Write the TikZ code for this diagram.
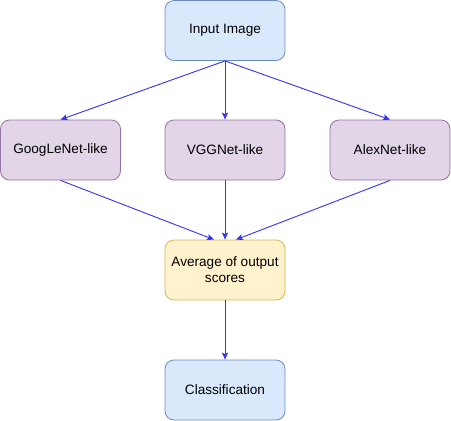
\documentclass[tikz,border=0pt]{standalone}
\usepackage{fontspec}
\setmainfont{Liberation Sans}
\usetikzlibrary{arrows.meta,positioning}
\definecolor{bluefill}{HTML}{DAE8FC}
\definecolor{blueline}{HTML}{6C8EBF}
\definecolor{netfill}{HTML}{E1D5E7}
\definecolor{netline}{HTML}{9673A6}
\definecolor{avgfill}{HTML}{FFF2CC}
\definecolor{avgline}{HTML}{D6B656}
\definecolor{flow}{RGB}{51,51,240}

\begin{document}
\begin{tikzpicture}[x=1pt,y=-1pt,
    box/.style={rounded corners=9pt,draw=blueline,fill=bluefill,line width=0.8pt,
                minimum width=120pt,minimum height=60pt,inner sep=2pt,
                font=\fontsize{13.6}{16}\selectfont,align=center},
    net/.style={box,draw=netline,fill=netfill},
    arr/.style={-{Stealth[length=7pt,width=6pt,inset=1.5pt]},flow,line width=0.9pt}]
    \useasboundingbox (0,0) rectangle (451,421);
    \node[box] (input) at (225,30.5) {Input Image};
    \node[net] (goog)  at (60.5,150) {GoogLeNet-like};
    \node[net] (vgg)   at (225,150) {VGGNet-like};
    \node[net] (alex)  at (390,150) {AlexNet-like};
    \node[box,draw=avgline,fill=avgfill] (avg) at (225,270)
      {Average of output\\scores};
    \node[box] (cls)   at (225,390) {Classification};
    \draw[arr] (input.south) -- (goog.north);
    \draw[arr] (input.south) -- (vgg.north);
    \draw[arr] (input.south) -- (alex.north);
    \draw[arr] (goog.south)  -- ([xshift=-11pt]avg.north);
    \draw[arr] (vgg.south)   -- (avg.north);
    \draw[arr] (alex.south)  -- ([xshift=11pt]avg.north);
    \draw[arr] (avg.south)   -- (cls.north);
  \end{tikzpicture}
\end{document}
